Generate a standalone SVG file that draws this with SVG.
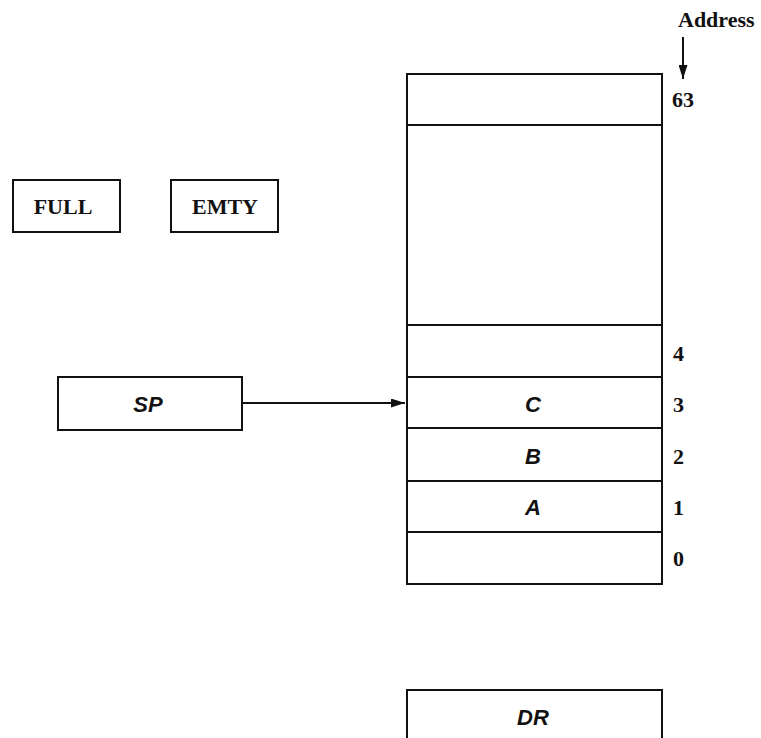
<svg xmlns="http://www.w3.org/2000/svg" width="761" height="738" viewBox="0 0 761 738">
<defs>
<style>
.box{fill:none;stroke:#111;stroke-width:2}
.ln{stroke:#111;stroke-width:2}
.ser{font-family:"Liberation Serif",serif;font-weight:bold;font-size:22px;fill:#111}
.it{font-family:"Liberation Sans",sans-serif;font-weight:bold;font-style:italic;font-size:22px;fill:#111;text-anchor:middle}
</style>
<marker id="ah" markerWidth="14" markerHeight="9" refX="14" refY="4.5" orient="auto" markerUnits="userSpaceOnUse">
<path d="M0,0 L14,4.5 L0,9 Z" fill="#111"/>
</marker>
</defs>
<rect width="761" height="738" fill="#fff"/>
<g id="address">
<text class="ser" x="678" y="27">Address</text>
</g>
<g id="full">
<rect class="box" x="13" y="180" width="107" height="52"/>
<text class="ser" x="63" y="214" text-anchor="middle">FULL</text>
</g>
<g id="emty">
<rect class="box" x="171" y="180" width="107" height="52"/>
<text class="ser" x="225" y="214" text-anchor="middle">EMTY</text>
</g>
<g id="sp">
<rect class="box" x="58" y="377" width="184" height="53"/>
<text class="it" x="148" y="412">SP</text>
</g>
<g id="memory">
<rect class="box" x="407" y="74" width="255" height="510"/>
<line class="ln" x1="407" y1="125" x2="662" y2="125"/>
<line class="ln" x1="407" y1="325" x2="662" y2="325"/>
<line class="ln" x1="407" y1="377" x2="662" y2="377"/>
<line class="ln" x1="407" y1="428" x2="662" y2="428"/>
<line class="ln" x1="407" y1="481" x2="662" y2="481"/>
<line class="ln" x1="407" y1="532" x2="662" y2="532"/>
<text class="it" x="533" y="412">C</text>
<text class="it" x="533" y="464">B</text>
<text class="it" x="533" y="515">A</text>
<text class="ser" x="672" y="107">63</text>
<text class="ser" x="673" y="361">4</text>
<text class="ser" x="673" y="412">3</text>
<text class="ser" x="673" y="464">2</text>
<text class="ser" x="673" y="515">1</text>
<text class="ser" x="673" y="566">0</text>
</g>
<g id="dr">
<path class="box" d="M407,740 V690 H662 V740"/>
<text class="it" x="533" y="725">DR</text>
</g>
<g id="connectors">
<line class="ln" x1="242" y1="403" x2="405" y2="403" marker-end="url(#ah)"/>
<line class="ln" x1="683" y1="37" x2="683" y2="79" marker-end="url(#ah)"/>
</g>
</svg>
